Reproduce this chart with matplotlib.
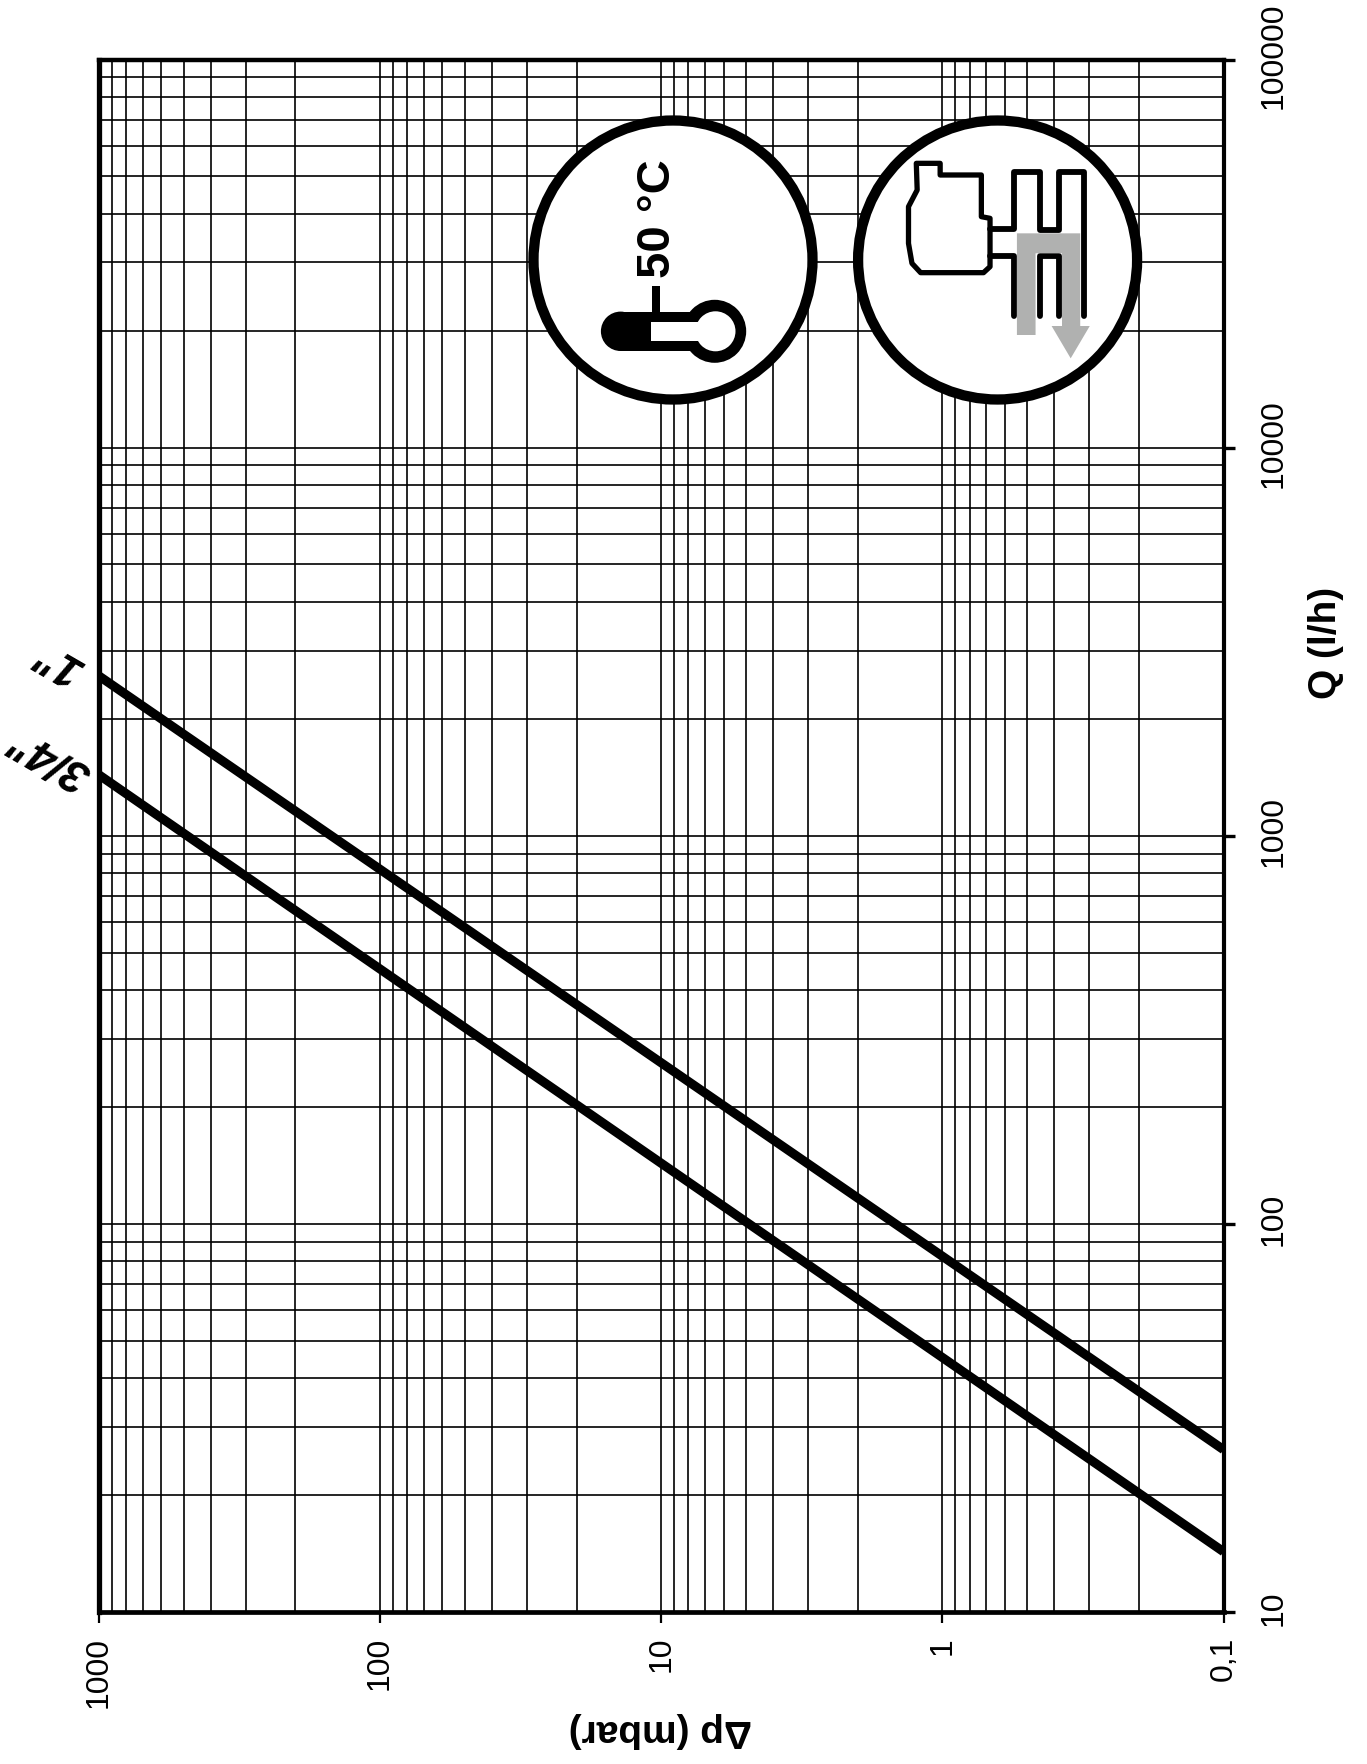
import numpy as np
import matplotlib
matplotlib.use('Agg')
import matplotlib.pyplot as plt
from matplotlib.patches import Circle, Rectangle, Polygon
from matplotlib.ticker import LogLocator, NullFormatter, FixedLocator, FixedFormatter
from matplotlib.transforms import ScaledTranslation

# pressure drop (mbar) at the two ends of the curves, flow rate (l/h)
dp_ends = [1000, 0.1]
q_1in = [2580, 26.2]
q_34in = [1435, 14.3]

dp_ticks = [1000, 100, 10, 1, 0.1]
dp_labels = ['1000', '100', '10', '1', '0,1']
q_ticks = [10, 100, 1000, 10000, 100000]
q_labels = ['10', '100', '1000', '10000', '100000']

W, H = 1367, 1764
plt.rcParams['font.family'] = 'Liberation Sans'

fig = plt.figure(figsize=(W/100, H/100), dpi=100)
ax = fig.add_axes([99/W, 1-1612/H, (1223.5-99)/W, (1612-59.5)/H])
ax.set_xscale('log')
ax.set_yscale('log')
ax.set_xlim(1000, 0.1)
ax.set_ylim(10, 100000)

ax.plot(dp_ends, q_1in, color='k', lw=6.6, solid_capstyle='butt', zorder=3)
ax.plot(dp_ends, q_34in, color='k', lw=6.6, solid_capstyle='butt', zorder=3)

ax.xaxis.set_major_locator(FixedLocator(dp_ticks))
ax.xaxis.set_major_formatter(FixedFormatter(dp_labels))
ax.yaxis.set_major_locator(FixedLocator(q_ticks))
ax.yaxis.set_major_formatter(FixedFormatter(q_labels))
for axis in (ax.xaxis, ax.yaxis):
    axis.set_minor_locator(LogLocator(base=10, subs=np.arange(2, 10), numticks=20))
    axis.set_minor_formatter(NullFormatter())
ax.yaxis.tick_right()
ax.grid(which='both', color='k', lw=1.2, zorder=1)
ax.set_axisbelow(True)
ax.tick_params(which='minor', length=0)
ax.tick_params(axis='x', which='major', length=8, width=1.6, pad=10, labelsize=23)
ax.tick_params(axis='y', which='major', length=8, width=2.4, pad=17, labelsize=23)
shift_up = ScaledTranslation(0, 4/100, fig.dpi_scale_trans)
for t in ax.get_xticklabels():
    t.set_rotation(90)
    t.set_ha('center')
    t.set_va('top')
for t in ax.get_yticklabels():
    t.set_rotation(90)
    t.set_va('center')
    t.set_ha('left')
    t.set_transform(t.get_transform() + shift_up)
for side, w in [('left', 3.8), ('top', 3.2), ('bottom', 3.4), ('right', 3.0)]:
    ax.spines[side].set_linewidth(w)

# overlay in pixel coordinates for the pictograms and loose labels
ov = fig.add_axes([0, 0, 1, 1], zorder=5)
ov.set_xlim(0, W)
ov.set_ylim(H, 0)
ov.axis('off')

ov.text(1326, 643, 'Q (l/h)', rotation=90, ha='center', va='center', fontsize=28, fontweight='bold')
ov.text(660, 1730, '\u0394p (mbar)', rotation=180, ha='center', va='center', fontsize=28, fontweight='bold')
ov.text(60, 662, '1"', rotation=150, ha='center', va='center', fontsize=33,
        fontweight='bold', fontstyle='italic')
ov.text(50, 757, '3/4"', rotation=150, ha='center', va='center', fontsize=33,
        fontweight='bold', fontstyle='italic')

for cx in (673, 997.6):
    ov.add_patch(Circle((cx, 260), 139.5, fc='w', ec='k', lw=7.4))


def crop(pts):
    # points measured on the zoomed crop of the icons
    return [(500+x/2.306, 90+y/3) for x, y in pts]


# thermometer
ov.add_patch(Circle((714.7, 331.3), 31.5, fc='k', ec='none'))
ov.add_patch(Circle((620.6, 331.3), 19.7, fc='k', ec='none'))
ov.add_patch(Rectangle((620.6, 311.7), 94, 39.3, fc='k', ec='none'))
ov.add_patch(Rectangle((651, 321.7), 50, 19.4, fc='w', ec='none'))
ov.add_patch(Circle((715.5, 331.3), 20, fc='w', ec='none'))
ov.add_patch(Rectangle((652, 286), 8, 27, fc='k', ec='none'))
ov.text(658, 219, '50 \u00b0C', rotation=90, ha='center', va='center', fontsize=34, fontweight='bold')

# boiler and radiator
boiler = crop([(960, 220), (1015, 220), (1015, 255), (1110, 255), (1110, 380), (1130, 385), (1130, 530),
               (1115, 548), (970, 548), (950, 520), (942, 460), (942, 350), (962, 300), (960, 220)])
pipe_top = crop([(1130, 418), (1185, 418), (1185, 245), (1245, 245), (1245, 420), (1288, 420), (1288, 245),
                 (1347, 245), (1347, 678)])
pipe_low1 = crop([(1130, 497), (1185, 497), (1185, 678)])
pipe_low2 = crop([(1245, 678), (1245, 497), (1288, 497), (1288, 678)])
ov.add_patch(Polygon(boiler, closed=True, fc='w', ec='k', lw=3.8, joinstyle='round'))
for pipe in (pipe_top, pipe_low1, pipe_low2):
    xs, ys = zip(*pipe)
    ov.plot(xs, ys, color='k', lw=4.2, solid_joinstyle='round', solid_capstyle='round')
arrow = crop([(1192, 430), (1338, 430), (1338, 708), (1360, 708), (1316, 805), (1272, 708), (1296, 708),
              (1296, 490), (1235, 490), (1235, 735), (1192, 735)])
ov.add_patch(Polygon(arrow, closed=True, fc='#b0b1b0', ec='none', zorder=4))

fig.savefig('out.png', dpi=100)
